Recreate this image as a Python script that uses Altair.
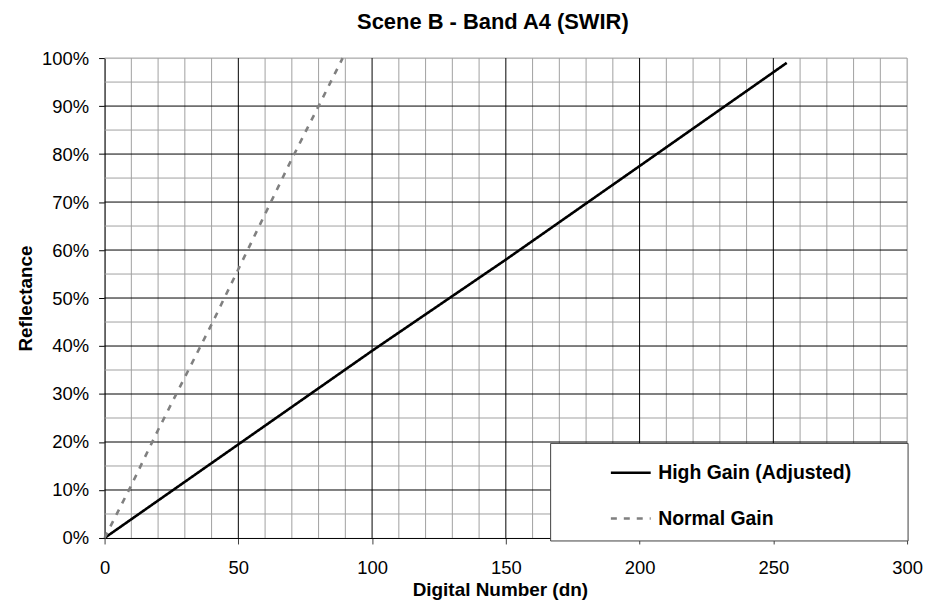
import altair as alt
import pandas as pd

# ---- data ----
high_dn = [0, 50, 100, 150, 200, 255]
high_refl = [0.0, 0.195, 0.39, 0.58, 0.775, 0.99]

normal_dn = [0, 10, 20, 30, 40, 50, 60, 70, 80, 89]
normal_refl = [0.0, 0.11, 0.225, 0.335, 0.445, 0.56, 0.675, 0.79, 0.90, 1.0]

series_names = ["High Gain (Adjusted)", "Normal Gain"]

x_ticks = [0, 50, 100, 150, 200, 250, 300]
y_ticks = [0.0, 0.1, 0.2, 0.3, 0.4, 0.5, 0.6, 0.7, 0.8, 0.9, 1.0]

x_major_grid = [50, 100, 150, 200, 250]
x_minor_grid = [v for v in range(10, 301, 10) if v % 50 != 0] + [300]
y_major_grid = [0.1, 0.2, 0.3, 0.4, 0.5, 0.6, 0.7, 0.8, 0.9]
y_minor_grid = [0.05, 0.15, 0.25, 0.35, 0.45, 0.55, 0.65, 0.75, 0.85, 0.95, 1.0]

FONT = "Liberation Sans"

lines_df = pd.concat([
    pd.DataFrame({"dn": high_dn, "refl": high_refl, "series": series_names[0], "order": range(len(high_dn))}),
    pd.DataFrame({"dn": normal_dn, "refl": normal_refl, "series": series_names[1], "order": range(len(normal_dn))}),
])

xscale = alt.Scale(domain=[0, 300], nice=False, zero=False)
yscale = alt.Scale(domain=[0, 1], nice=False, zero=False)

xaxis = alt.Axis(values=x_ticks, title="Digital Number (dn)", grid=False, labelFlush=False,
                 tickSize=6, tickColor="#404040", domainColor="#000000",
                 labelPadding=15, labelFontSize=18.5, labelFont=FONT, labelColor="#000",
                 titleFont=FONT, titleFontSize=19, titleFontWeight="bold", titleColor="#000",
                 titleBaseline="alphabetic", titleY=58, titleX=397)
yaxis = alt.Axis(values=y_ticks, format=".0%", title="Reflectance", grid=False, labelFlush=False,
                 tickSize=6, tickColor="#000", domainColor="#404040", domainWidth=1.5,
                 labelPadding=10, labelFontSize=18.5, labelFont=FONT, labelColor="#000",
                 titleFont=FONT, titleFontSize=19, titleFontWeight="bold", titleColor="#000",
                 titleBaseline="alphabetic", titleX=-73, titleY=241, titleAngle=270)


def vrules(vals, color):
    return alt.Chart(pd.DataFrame({"v": vals})).mark_rule(color=color, strokeWidth=1).encode(
        x=alt.X("v:Q", scale=xscale, axis=xaxis, title="Digital Number (dn)")
    )


def hrules(vals, color):
    return alt.Chart(pd.DataFrame({"v": vals})).mark_rule(color=color, strokeWidth=1).encode(
        y=alt.Y("v:Q", scale=yscale, axis=yaxis, title="Reflectance")
    )


legend_bg = alt.Chart(pd.DataFrame({"a": [0]})).mark_rect(
    fill="white", stroke="#404040", strokeWidth=1
).encode(
    x=alt.value(448), x2=alt.value(807), y=alt.value(387), y2=alt.value(485)
)

leg = alt.Legend(title=None, orient="none", legendX=507, legendY=395,
                 symbolType="stroke", symbolSize=1600, symbolStrokeWidth=2.6,
                 labelFont=FONT, labelFontSize=19.5, labelFontWeight="bold",
                 labelColor="#000", labelOffset=6, rowPadding=15, padding=0,
                 labelLimit=400)

lines = alt.Chart(lines_df).mark_line(strokeWidth=2.6).encode(
    x=alt.X("dn:Q", scale=xscale, axis=xaxis, title="Digital Number (dn)"),
    y=alt.Y("refl:Q", scale=yscale, axis=yaxis, title="Reflectance"),
    color=alt.Color("series:N", scale=alt.Scale(domain=series_names, range=["#000000", "#808080"]),
                    legend=leg),
    strokeDash=alt.StrokeDash("series:N", scale=alt.Scale(domain=series_names, range=[[1, 0], [6, 7]]),
                              legend=leg),
    order="order:Q",
)

chart = alt.layer(
    vrules(x_minor_grid, "#a0a0a0"),
    hrules(y_minor_grid, "#a0a0a0"),
    vrules(x_major_grid, "#000000"),
    hrules(y_major_grid, "#000000"),
    legend_bg,
    lines,
).properties(
    width=806, height=482,
    padding={"left": 97, "top": 49, "right": 18, "bottom": 62},
    autosize=alt.AutoSizeParams(type="none"),
    title=alt.TitleParams("Scene B - Band A4 (SWIR)", font=FONT, fontSize=22, fontWeight="bold",
                          color="#000", anchor="middle", frame="group", baseline="alphabetic",
                          offset=-2, dx=-13),
).configure_view(stroke=None).configure(background="white")

chart.save("out.html", embed_options={"renderer": "svg", "actions": False})
